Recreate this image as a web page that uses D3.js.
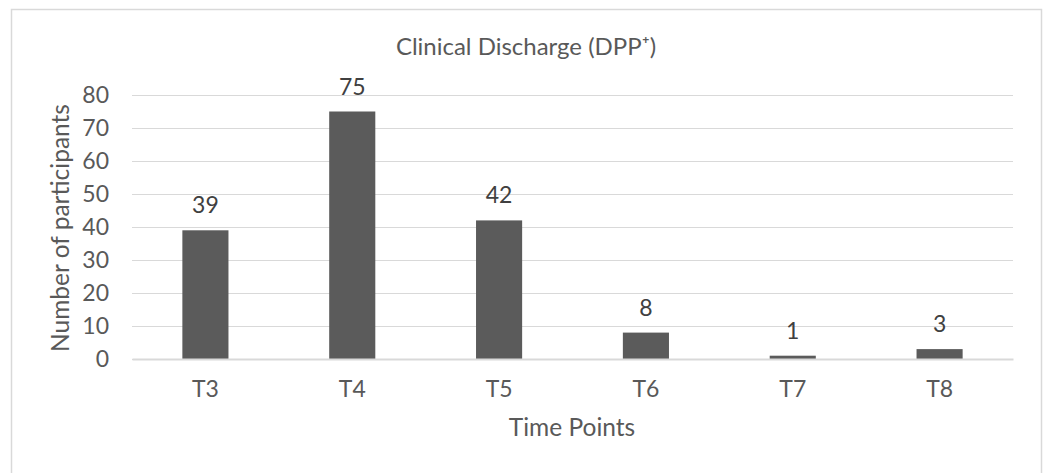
<!DOCTYPE html>
<html><head><meta charset="utf-8">
<script src="https://cdn.jsdelivr.net/npm/d3@7"></script>
<style>body{margin:0;background:#fff}svg{display:block}</style>
</head><body>
<script>
const categories = ["T3","T4","T5","T6","T7","T8"];
const values = [39,75,42,8,1,3];
const yTicks = [0,10,20,30,40,50,60,70,80];
const title = "Clinical Discharge (DPP\u207A)";
const xTitle = "Time Points";
const yTitle = "Number of participants";

const W = 1049, H = 473;
const font = "Lato, sans-serif";
const txt = "#595959";
const svg = d3.select("body").append("svg").attr("width", W).attr("height", H);
svg.append("rect").attr("x",11.5).attr("y",9.5).attr("width",1030).attr("height",480)
  .attr("fill","#fff").attr("stroke","#d9d9d9").attr("stroke-width",1.5);

const m = {left:132, right:1013, top:95, bottom:359};
const x = d3.scaleBand().domain(categories).range([m.left,m.right]).paddingInner(0.686).paddingOuter(0.343);
const y = d3.scaleLinear().domain([0,80]).range([m.bottom,m.top]);

const yAxis = svg.append("g").attr("transform",`translate(${m.left},0)`)
  .call(d3.axisLeft(y).tickValues(yTicks).tickSize(-(m.right-m.left)).tickPadding(23));
yAxis.select(".domain").remove();
yAxis.selectAll(".tick line").attr("stroke","#d9d9d9").attr("stroke-width",1);
yAxis.selectAll(".tick text").attr("fill",txt).style("font-family",font).style("font-size","23px");

svg.append("g").selectAll("rect").data(values).join("rect")
  .attr("x",(d,i)=>x(categories[i])).attr("width",x.bandwidth())
  .attr("y",d=>y(d)).attr("height",d=>y(0)-y(d)).attr("fill","#5b5b5b");

const xAxis = svg.append("g").attr("transform",`translate(0,${m.bottom})`)
  .call(d3.axisBottom(x).tickSize(0).tickPadding(22));
xAxis.select(".domain").attr("stroke","#d9d9d9").attr("stroke-width",2);
xAxis.selectAll(".tick text").attr("fill",txt).style("font-family",font).style("font-size","23px");

svg.append("g").selectAll("text").data(values).join("text")
  .attr("x",(d,i)=>x(categories[i])+x.bandwidth()/2).attr("y",d=>y(d)-17)
  .attr("text-anchor","middle").attr("fill","#404040").style("font-family",font).style("font-size","23px")
  .text(d=>d);

svg.append("text").attr("x",526).attr("y",55).attr("text-anchor","middle").attr("fill",txt)
  .style("font-family",font).style("font-size","24px").text(title);
svg.append("text").attr("x",572).attr("y",436).attr("text-anchor","middle").attr("fill",txt)
  .style("font-family",font).style("font-size","24.5px").text(xTitle);
svg.append("text").attr("transform",`translate(69,228) rotate(-90)`).attr("text-anchor","middle").attr("fill",txt)
  .style("font-family",font).style("font-size","24.5px").text(yTitle);
</script>
</body></html>
